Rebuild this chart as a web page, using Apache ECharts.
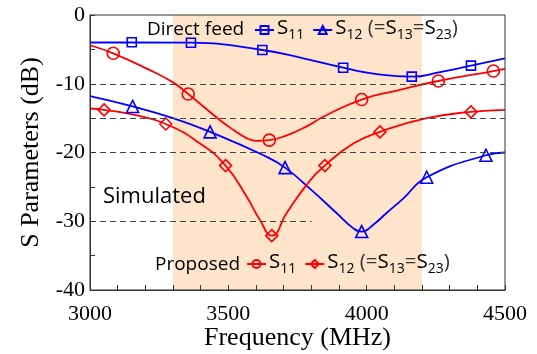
<!DOCTYPE html>
<html><head><meta charset="utf-8">
<script src="https://cdn.jsdelivr.net/npm/echarts@6/dist/echarts.min.js"></script>
<style>html,body{margin:0;padding:0;background:#fff}#c{width:537px;height:354px}</style>
</head><body><div id="c"></div>
<script>
// ---- data ----
const xTickValues = [3000, 3500, 4000, 4500];
const yTickValues = [0, -10, -20, -30, -40];
const shadeBand = [3300, 4200];
const dashedLevels = [-10, -15, -20];
const dashedShortLevel = -30;
const dashedShortRange = [3000, 3800];

// Direct feed S11 (squares)
const dfS11Freq = [3000, 3151, 3365, 3623, 3771, 3915, 4036, 4163, 4265, 4377, 4500];
const dfS11Val  = [-4.0, -3.97, -4.03, -5.09, -6.3, -7.67, -8.6, -8.97, -8.3, -7.37, -6.3];
const dfS11Mark = [0, 1, 1, 1, 0, 1, 0, 1, 0, 1, 0];

// Direct feed S12 (triangles)
const dfS12Freq = [3000, 3154, 3300, 3434, 3627, 3705, 3807, 3891, 3951, 3982, 4024, 4072, 4132, 4217, 4431, 4500];
const dfS12Val  = [-11.8, -13.3, -15.0, -17.0, -20.4, -22.2, -25.7, -28.8, -31.0, -31.5, -30.5, -28.8, -26.7, -23.6, -20.4, -20.0];
const dfS12Mark = [0, 1, 0, 1, 0, 1, 0, 0, 0, 1, 0, 0, 0, 1, 1, 0];

// Proposed S11 (circles)
const prS11Freq = [3000, 3084, 3205, 3300, 3355, 3470, 3518, 3566, 3602, 3648, 3711, 3783, 3843, 3982, 4120, 4259, 4458, 4500];
const prS11Val  = [-4.4, -5.57, -7.8, -9.8, -11.5, -15.3, -16.7, -17.9, -18.3, -18.2, -17.5, -16.2, -14.8, -12.3, -10.9, -9.6, -8.15, -7.85];
const prS11Mark = [0, 1, 0, 0, 1, 0, 0, 0, 0, 1, 0, 0, 0, 1, 0, 1, 1, 0];

// Proposed S12 (diamonds)
const prS12Freq = [3000, 3051, 3157, 3274, 3398, 3490, 3566, 3614, 3657, 3711, 3783, 3849, 3952, 4048, 4217, 4377, 4500];
const prS12Val  = [-13.6, -13.8, -14.5, -15.85, -18.7, -21.9, -26.4, -29.8, -32.1, -28.8, -24.7, -21.9, -18.7, -17.0, -15.0, -14.1, -13.8];
const prS12Mark = [0, 1, 0, 1, 0, 1, 0, 0, 1, 0, 0, 1, 0, 1, 0, 1, 0];

// ---- chart ----
const BLUE = '#0000ff', RED = '#ff0000';
const SANS = 'Open Sans';
const SERIF = 'Liberation Serif';

function pts(f, v, m) {
  return f.map((x, i) => m[i] ? [x, v[i]] : { value: [x, v[i]], symbol: 'none' });
}

function lineSeries(name, f, v, m, color, symbol, size) {
  return {
    name, type: 'line', data: pts(f, v, m),
    smooth: 0.5,
    symbol, symbolSize: size, showAllSymbol: true,
    lineStyle: { color, width: 1.8 },
    itemStyle: { color: 'rgba(0,0,0,0)', borderColor: color, borderWidth: 1.6 },
    z: 4, animation: false
  };
}

const legendNames = {
  dS11: '{t|S}{s|11}',
  dS12: '{t|S}{s|12}{p| (=}{t|S}{s|13}{p|=}{t|S}{s|23}{p|)}',
  pS11: '{t|S}{s|11}',
  pS12: '{t|S}{s|12}{p| (=}{t|S}{s|13}{p|=}{t|S}{s|23}{p|)}'
};
const rich = {
  t: { fontFamily: SANS, fontSize: 20.5, lineHeight: 24, verticalAlign: 'top', color: '#000' },
  p: { fontFamily: SANS, fontSize: 20.5, lineHeight: 24, verticalAlign: 'top', color: '#333' },
  s: { fontFamily: SANS, fontSize: 14, lineHeight: 10, verticalAlign: 'bottom', color: '#000' }
};
function legendCfg(names, left, top) {
  return {
    data: names, left, top, orient: 'horizontal',
    itemWidth: 19, itemHeight: 10, itemGap: 8,
    formatter: n => legendNames[n],
    textStyle: { rich, fontFamily: SANS, fontSize: 20, padding: [0, 0, 0, -2] },
    selectedMode: false
  };
}

const gridLines = dashedLevels.map(y => [{ coord: [xTickValues[0], y] }, { coord: [xTickValues[xTickValues.length - 1], y] }]);
gridLines.push([{ coord: [dashedShortRange[0], dashedShortLevel] }, { coord: [dashedShortRange[1], dashedShortLevel] }]);

const chart = echarts.init(document.getElementById('c'), null, { renderer: 'canvas' });
chart.setOption({
  animation: false,
  grid: { left: 90, top: 15, right: 32, bottom: 64, outerBoundsMode: 'none', containLabel: false, show: true, borderColor: '#333', borderWidth: 1, z: 5, backgroundColor: 'rgba(0,0,0,0)' },
  xAxis: {
    type: 'value', min: xTickValues[0], max: xTickValues[xTickValues.length - 1], interval: 500,
    z: 6,
    axisLine: { show: true, onZero: false, lineStyle: { color: '#333', width: 1 } },
    axisTick: { show: true, inside: true, length: 5, lineStyle: { color: '#333' } },
    minorTick: { show: true, splitNumber: 5, length: 5, lineStyle: { color: '#333' } },
    splitLine: { show: false },
    axisLabel: { fontFamily: SERIF, fontSize: 22, color: '#000', margin: 13, formatter: v => String(v) },
    name: 'Frequency (MHz)', nameLocation: 'middle', nameGap: 35, nameMoveOverlap: false,
    nameTextStyle: { fontFamily: SERIF, fontSize: 26, color: '#000' }
  },
  yAxis: {
    type: 'value', min: yTickValues[yTickValues.length - 1], max: yTickValues[0], interval: 10,
    z: 6,
    axisLine: { show: true, onZero: false, lineStyle: { color: '#333', width: 1 } },
    axisTick: { show: true, inside: true, length: 5, lineStyle: { color: '#333' } },
    minorTick: { show: true, splitNumber: 2, length: 5, lineStyle: { color: '#333' } },
    splitLine: { show: false },
    axisLabel: { fontFamily: SERIF, fontSize: 22, color: '#000', margin: 5 },
    name: 'S Parameters (dB)', nameLocation: 'middle', nameGap: 46, nameMoveOverlap: false,
    nameTextStyle: { fontFamily: SERIF, fontSize: 26, color: '#000' }
  },
  legend: [
    legendCfg(['dS11', 'dS12'], 249, 13),
    legendCfg(['pS11', 'pS12'], 241, 247)
  ],
  graphic: [
    { type: 'text', left: 147, top: 20, z: 10, style: { text: 'Direct feed', font: '19px "Open Sans"', fill: '#000' } },
    { type: 'text', left: 155, top: 255, z: 10, style: { text: 'Proposed', font: '19px "Open Sans"', fill: '#000' } },
    { type: 'text', left: 103, top: 186, z: 10, style: { text: 'Simulated', font: '22px "Open Sans"', fill: '#000' } }
  ],
  series: [
    {
      name: 'bg', type: 'line', data: [], z: 1, silent: true,
      markArea: { silent: true, itemStyle: { color: '#fde4cb' }, data: [[{ xAxis: shadeBand[0] }, { xAxis: shadeBand[1] }]] },
      markLine: { silent: true, symbol: 'none', label: { show: false }, lineStyle: { color: '#444', type: [6, 4], width: 1 }, data: gridLines }
    },
    lineSeries('dS11', dfS11Freq, dfS11Val, dfS11Mark, BLUE, 'rect', 9),
    lineSeries('dS12', dfS12Freq, dfS12Val, dfS12Mark, BLUE, 'triangle', 12),
    lineSeries('pS11', prS11Freq, prS11Val, prS11Mark, RED, 'circle', 12),
    lineSeries('pS12', prS12Freq, prS12Val, prS12Mark, RED, 'diamond', 12)
  ]
});
</script>
</body></html>
